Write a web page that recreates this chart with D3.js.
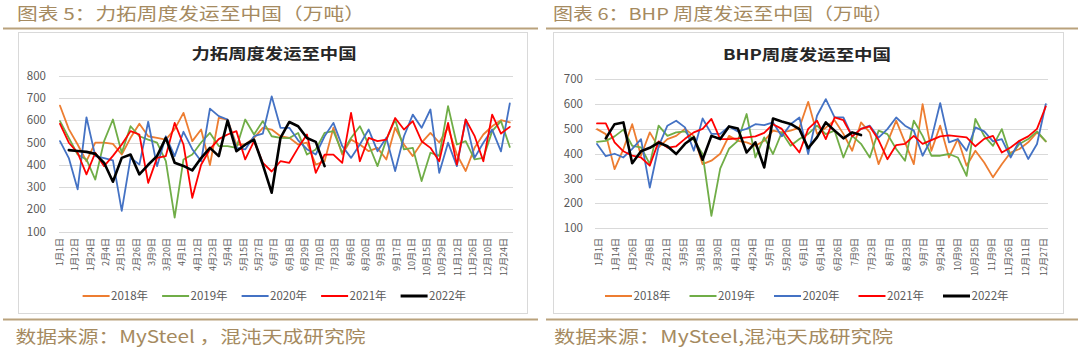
<!DOCTYPE html>
<html><head><meta charset="utf-8">
<script src="https://cdn.jsdelivr.net/npm/d3@7"></script>
<style>body{margin:0;background:#fff}svg{display:block}</style>
</head><body><svg id="c" width="1080" height="351"></svg>
<script>
// ---------- data ----------
const yearNames = ["2018年","2019年","2020年","2021年","2022年"];
const yearColors = ["#ED7D31","#70AD47","#4472C4","#FF0000","#000000"];
const startWeek = [0,0,0,0,1];

const riotDates = ["1月1日","1月12日","1月24日","2月4日","2月15日","2月26日","3月9日","3月20日","4月1日","4月12日","4月23日","5月4日","5月15日","5月27日","6月7日","6月18日","6月29日","7月10日","7月23日","8月6日","8月20日","9月3日","9月17日","10月1日","10月15日","10月29日","11月12日","11月26日","12月10日","12月24日"];
const riotYTicks = [100,200,300,400,500,600,700,800];
const riot2018 = [665,560,491,416,499,499,494,446,521,584,528,521,513,560,633,506,558,399,610,603,491,491,521,566,558,528,521,491,499,401,416,566,446,513,491,461,476,424,566,491,439,499,543,500,566,446,372,476,536,573,600,590];
const riot2019 = [596,520,446,424,334,506,603,454,573,528,513,499,416,163,424,446,500,543,484,484,476,603,536,596,528,521,520,543,446,469,543,551,454,520,573,491,394,513,603,469,476,327,454,440,663,491,506,424,431,551,596,480];
const riot2020 = [506,430,290,613,439,430,420,193,431,401,593,394,528,439,548,470,416,652,618,603,476,469,528,540,707,566,566,510,470,446,528,588,484,431,491,558,461,521,372,528,625,566,648,364,499,394,603,431,499,558,460,675];
const riot2021 = [584,499,454,357,454,394,440,491,551,536,319,431,439,588,491,252,400,470,515,536,551,424,506,409,370,416,409,476,536,364,446,446,409,633,416,521,506,513,610,558,596,506,476,416,588,401,603,530,416,625,540,570];
const riot2022 = [466,462,458,449,409,324,431,446,357,400,439,521,409,395,375,430,476,439,598,461,490,513,400,275,521,592,573,520,503,394];

const bhpDates = ["1月1日","1月14日","1月26日","2月8日","2月21日","3月5日","3月18日","3月30日","4月12日","4月24日","5月7日","5月20日","6月1日","6月14日","6月26日","7月9日","7月23日","8月7日","8月23日","9月7日","9月24日","10月9日","10月25日","11月9日","11月26日","12月11日","12月27日"];
const bhpYTicks = [100,200,300,400,500,600,700];
const bhp2018 = [499,479,338,419,519,392,486,426,459,472,500,472,358,372,400,472,452,446,432,452,493,486,493,505,609,480,505,535,480,412,526,486,358,446,533,446,358,600,412,513,385,459,352,412,365,305,358,405,419,446,486,450];
const bhp2019 = [448,452,470,497,432,426,358,513,472,486,490,455,399,150,340,420,452,560,385,466,399,486,432,459,480,513,479,493,385,472,440,385,493,479,419,372,533,472,392,392,399,385,311,540,472,432,499,392,439,459,490,450];
const bhp2020 = [439,390,400,385,420,459,264,430,513,533,506,412,542,480,480,510,490,500,519,515,526,470,519,546,399,553,620,546,546,470,500,513,465,499,546,513,493,392,460,604,446,459,412,506,490,450,459,385,452,379,439,600];
const bhp2021 = [522,522,446,410,392,385,352,450,425,430,460,486,500,540,459,459,462,466,470,484,519,500,450,405,500,533,459,546,535,470,500,510,455,378,435,440,472,440,455,470,474,470,466,430,460,472,405,425,452,470,500,590];
const bhp2022 = [462,519,526,362,410,424,445,430,399,440,466,376,472,459,510,502,405,446,345,542,530,520,499,422,466,526,493,462,486,475];

const headers = ["图表 5：力拓周度发运至中国（万吨）","图表 6：BHP 周度发运至中国（万吨）"];
const titles = ["力拓周度发运至中国","BHP周度发运至中国"];
const sources = ["数据来源：MySteel ，混沌天成研究院","数据来源：MySteel,混沌天成研究院"];

// ---------- drawing ----------
const svg = d3.select("#c");
const FONT = "'Noto Sans CJK SC','Noto Sans',sans-serif";
const TAN = "#a58a60", TANLINE = "#b9a27c", GRAY = "#595959", GRID = "#d9d9d9";

function panel(cfg){
  const g = svg.append("g");
  // header
  g.append("text").attr("x",cfg.hx).attr("y",19.5).attr("font-family",FONT).attr("font-size",16.5)
    .attr("fill",TAN).attr("textLength",cfg.hLen).attr("lengthAdjust","spacingAndGlyphs").text(cfg.header);
  g.append("line").attr("x1",cfg.lx0).attr("x2",cfg.lx1).attr("y1",28.5).attr("y2",28.5).attr("stroke",TANLINE).attr("stroke-width",2);
  g.append("line").attr("x1",cfg.lx0).attr("x2",cfg.lx1).attr("y1",319.5).attr("y2",319.5).attr("stroke",TANLINE).attr("stroke-width",2);
  g.append("text").attr("x",cfg.sx).attr("y",343).attr("font-family",FONT).attr("font-size",17)
    .attr("fill",TAN).attr("textLength",cfg.sLen).attr("lengthAdjust","spacingAndGlyphs").text(cfg.source);
  // frame
  g.append("rect").attr("x",cfg.fx).attr("y",32.5).attr("width",cfg.fw).attr("height",281)
    .attr("fill","#fff").attr("stroke",GRID).attr("stroke-width",1);
  // title
  g.append("text").attr("x",cfg.tx).attr("y",cfg.ty).attr("text-anchor","middle").attr("font-family",FONT)
    .attr("font-size",15).attr("font-weight","bold").attr("fill","#262626")
    .attr("textLength",cfg.tLen).attr("lengthAdjust","spacingAndGlyphs").text(cfg.title);

  const y = d3.scaleLinear().domain(d3.extent(cfg.yTicks)).range(cfg.yRange);
  const xl = d3.scalePoint().domain(cfg.dates).range(cfg.labelRange);
  const xs = d3.scaleLinear().domain([0,51]).range(cfg.seriesRange);

  // grid
  g.selectAll(".grid").data(cfg.yTicks).join("line")
    .attr("x1",cfg.px0).attr("x2",cfg.px1).attr("y1",d=>Math.round(y(d))+0.5).attr("y2",d=>Math.round(y(d))+0.5)
    .attr("stroke",GRID).attr("stroke-width",1);
  g.selectAll(".yl").data(cfg.yTicks).join("text")
    .attr("x",cfg.ylx).attr("y",d=>y(d)).attr("dy","0.35em").attr("text-anchor","end")
    .attr("font-family",FONT).attr("font-size",11.5).attr("fill",GRAY).text(d=>d);
  // x labels
  g.selectAll(".xl").data(cfg.dates).join("text")
    .attr("transform",d=>`translate(${xl(d)},238) rotate(-90)`).attr("dy","0.35em").attr("text-anchor","end")
    .attr("font-family",FONT).attr("font-size",9).attr("fill",GRAY).text(d=>d);

  // series
  const line = d3.line().x(d=>xs(d.w)).y(d=>y(d.v));
  cfg.series.forEach((vals,k)=>{
    const pts = vals.map((v,i)=>({w:i+startWeek[k],v}));
    g.append("path").datum(pts).attr("d",line).attr("fill","none")
      .attr("stroke",yearColors[k]).attr("stroke-width",k===4?2.6:1.8)
      .attr("stroke-linejoin","round").attr("stroke-linecap","round");
  });

  // legend
  yearNames.forEach((n,k)=>{
    const lx = cfg.legX + k*cfg.legStep;
    g.append("line").attr("x1",lx).attr("x2",lx+27).attr("y1",296).attr("y2",296)
      .attr("stroke",yearColors[k]).attr("stroke-width",k===4?3:2);
    g.append("text").attr("x",lx+28.5).attr("y",296).attr("dy","0.35em")
      .attr("font-family",FONT).attr("font-size",11.5).attr("fill",GRAY).text(n);
  });
}

panel({header:headers[0], hx:17, hLen:348, lx0:3, lx1:538, sx:15.5, sLen:350, source:sources[0],
  fx:18.5, fw:509, title:titles[0], tx:274, ty:59, tLen:165,
  yTicks:riotYTicks, yRange:[231.7,75.6], dates:riotDates, labelRange:[60,503.4], seriesRange:[60,509.8],
  px0:59, px1:513, ylx:46, series:[riot2018,riot2019,riot2020,riot2021,riot2022], legX:82.6, legStep:79.5});

panel({header:headers[1], hx:553, hLen:340, lx0:546, lx1:1078, sx:554, sLen:339, source:sources[1],
  fx:553.5, fw:510, title:titles[1], tx:807, ty:60, tLen:168,
  yTicks:bhpYTicks, yRange:[228.3,79.2], dates:bhpDates, labelRange:[598.5,1043.4], seriesRange:[597,1045.8],
  px0:595, px1:1048, ylx:583, series:[bhp2018,bhp2019,bhp2020,bhp2021,bhp2022], legX:605, legStep:84.5});
</script></body></html>
